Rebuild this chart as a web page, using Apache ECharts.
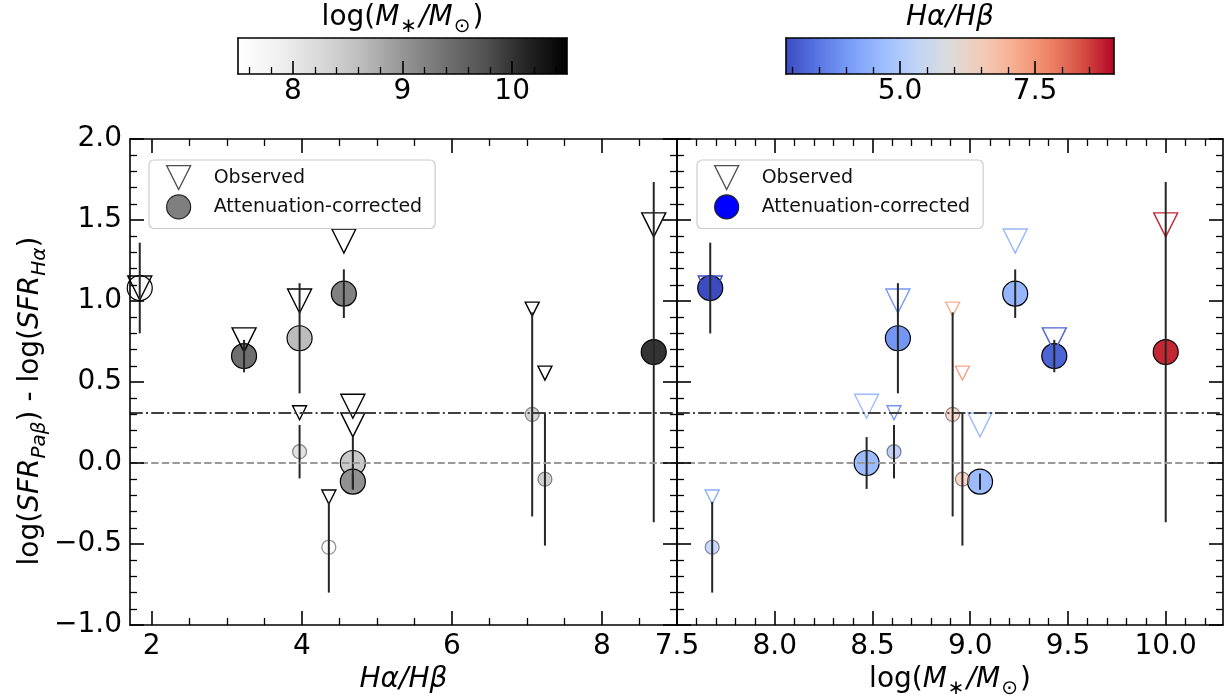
<!DOCTYPE html>
<html>
<head>
<meta charset="utf-8">
<script src="https://cdn.jsdelivr.net/npm/echarts@6/dist/echarts.min.js"></script>
<style>
  html, body { margin: 0; padding: 0; background: #fff; }
  #chart { width: 1231px; height: 696px; }
</style>
</head>
<body>
<div id="chart"></div>
<script>
// Per-galaxy measurements
const balmerDecrement  = [1.84, 3.23, 3.97, 4.56, 4.68, 4.68, 3.97, 4.36, 7.07, 7.24, 8.69];
const logStellarMass   = [7.67, 9.43, 8.63, 9.23, 8.47, 9.05, 8.61, 7.68, 8.91, 8.96, 10.00];
const sfrOffsetObs     = [1.08, 0.76, 1.00, 1.37, 0.35, 0.235, 0.31, -0.21, 0.95, 0.555, 1.47];
const sfrOffsetCorr    = [1.08, 0.66, 0.77, 1.045, 0.00, -0.115, 0.07, -0.52, 0.30, -0.10, 0.685];
const sfrOffsetErr     = [0.28, 0.10, 0.34, 0.15, 0.16, 0.05, 0.165, 0.28, 0.63, 0.41, 1.05];
const highSignal       = [true, true, true, true, true, true, false, false, false, false, true];

// Reference levels: zero offset and the mean observed offset
const referenceLevels  = [0.0, 0.31];

// Axis extents and tick labels
const decrementAxisRange = [1.71, 9.0];
const massAxisRange      = [7.5, 10.293];
const offsetAxisRange    = [-1.0, 2.0];
const decrementTicks     = [2, 4, 6, 8];
const massTicks          = [7.5, 8.0, 8.5, 9.0, 9.5, 10.0];

// Colour-bar limits and tick labels
const massColorRange      = [7.5, 10.5];
const decrementColorRange = [2.89, 8.96];
const massBarTicks        = [8, 9, 10];
const decrementBarTicks   = [5.0, 7.5];

const FONT = 'DejaVu Sans';
const FS = 28;      // tick labels and titles
const FS_SUB = 20;  // subscripts
const GREYS = ['#ffffff', '#f0f0f0', '#d9d9d9', '#bdbdbd', '#969696', '#737373', '#525252', '#252525', '#000000'];
const COOLWARM = ['#3b4cc0', '#5977e3', '#7b9ff9', '#9ebeff', '#c0d4f5', '#dddcdc', '#f2cbb7', '#f7ac8e', '#ee8468', '#d65244', '#b40426'];

function hexToRgb(h) { return [1, 3, 5].map(i => parseInt(h.substr(i, 2), 16)); }
function sampleMap(stops, t) {
  t = Math.max(0, Math.min(1, t));
  const n = stops.length - 1, f = t * n;
  const i = Math.min(n - 1, Math.floor(f)), u = f - i;
  const a = hexToRgb(stops[i]), b = hexToRgb(stops[i + 1]);
  return 'rgb(' + a.map((v, k) => Math.round(v + (b[k] - v) * u)).join(',') + ')';
}
function norm(v, r) { return (v - r[0]) / (r[1] - r[0]); }
function mapGradient(stops) {
  return { type: 'linear', x: 0, y: 0, x2: 1, y2: 0,
    colorStops: stops.map((c, i) => ({ offset: i / (stops.length - 1), color: c })) };
}
function stepValues(lo, hi, step, skip) {
  const out = [];
  const k0 = Math.ceil(lo / step - 1e-9), k1 = Math.floor(hi / step + 1e-9);
  for (let k = k0; k <= k1; k++) {
    const v = Math.round(k * step * 1000) / 1000;
    if (v <= lo + 1e-6 || v >= hi - 1e-6) continue;
    if (skip.some(m => Math.abs(m - v) < 1e-6)) continue;
    out.push(v);
  }
  return out;
}

const LH = 38;
const RICH = {
  n:  { fontFamily: FONT, fontSize: FS, color: '#000', lineHeight: LH },
  i:  { fontFamily: FONT, fontSize: FS, color: '#000', lineHeight: LH, fontStyle: 'italic' },
  s:  { fontFamily: FONT, fontSize: FS_SUB, color: '#000', lineHeight: FS_SUB, verticalAlign: 'bottom', padding: [0, 2, 0, 1] },
  si: { fontFamily: FONT, fontSize: FS_SUB, color: '#000', lineHeight: FS_SUB, verticalAlign: 'bottom', fontStyle: 'italic' }
};
const MASS_TITLE = '{n|log(}{i|M}{s|∗}{i|/M}{s|⊙}{n|)}';
const DEC_TITLE = '{i|Hα/Hβ}';
const OFFSET_TITLE = '{n|log(}{i|SFR}{si|Paβ}{n|) - log(}{i|SFR}{si|Hα}{n|)}';

const frameLine = { show: true, onZero: false, lineStyle: { color: '#000', width: 1.6 } };
const hiddenLine = { show: false, onZero: false };
function ticks(values, len) {
  return { show: true, inside: true, length: len, customValues: values,
    lineStyle: { color: '#000', width: len > 10 ? 1.6 : 1.3 } };
}
const labelBase = { fontFamily: FONT, fontSize: FS, color: '#000' };
const nameStyle = { fontFamily: FONT, fontSize: FS, color: '#000', rich: RICH };

const xAxes = [], yAxes = [];
function addX(cfg) {
  xAxes.push(Object.assign({ type: 'value', splitLine: { show: false }, z: 10, scale: true }, cfg));
  return xAxes.length - 1;
}
function addY(cfg) {
  yAxes.push(Object.assign({ type: 'value', splitLine: { show: false }, z: 10, scale: true }, cfg));
  return yAxes.length - 1;
}

function panelXAxes(grid, range, majors, step, fmt, title) {
  const minors = stepValues(range[0], range[1], step, majors);
  const common = { gridIndex: grid, min: range[0], max: range[1] };
  const main = addX(Object.assign({}, common, {
    position: 'bottom', axisLine: frameLine, axisTick: ticks(majors, 14),
    axisLabel: Object.assign({ show: true, customValues: majors, formatter: fmt, margin: 8 }, labelBase),
    name: title, nameLocation: 'middle', nameGap: 28, nameTextStyle: nameStyle
  }));
  addX(Object.assign({}, common, { position: 'bottom', axisLine: hiddenLine, axisTick: ticks(minors, 7), axisLabel: { show: false } }));
  addX(Object.assign({}, common, { position: 'top', axisLine: frameLine, axisTick: ticks(majors, 14), axisLabel: { show: false } }));
  addX(Object.assign({}, common, { position: 'top', axisLine: hiddenLine, axisTick: ticks(minors, 7), axisLabel: { show: false } }));
  return main;
}

function offsetFmt(v) { return (v < 0 ? '\u2212' : '') + Math.abs(v).toFixed(1); }

function panelYAxes(grid, withLabels) {
  const common = {
    gridIndex: grid, min: offsetAxisRange[0], max: offsetAxisRange[1], interval: 0.5,
    axisLine: frameLine,
    axisTick: { show: true, inside: true, length: 14, lineStyle: { color: '#000', width: 1.6 } },
    minorTick: { show: true, splitNumber: 5, length: 7, lineStyle: { color: '#000', width: 1.3 } }
  };
  const main = addY(Object.assign({}, common, {
    position: 'left',
    axisLabel: withLabels ? Object.assign({ show: true, formatter: offsetFmt, margin: 8 }, labelBase) : { show: false },
    name: withLabels ? OFFSET_TITLE : '', nameLocation: 'middle', nameGap: 80, nameRotate: 90,
    nameTextStyle: Object.assign({ padding: [0, 38, 0, 0] }, nameStyle)
  }));
  addY(Object.assign({}, common, { position: 'right', axisLabel: { show: false } }));
  return main;
}

function colorbarAxes(grid, range, majors, step, fmt, title) {
  const minors = stepValues(range[0], range[1], step, majors);
  const common = { gridIndex: grid, min: range[0], max: range[1] };
  const x = addX(Object.assign({}, common, {
    position: 'bottom', axisLine: frameLine, axisTick: ticks(majors, 13),
    axisLabel: Object.assign({ show: true, customValues: majors, formatter: fmt, margin: 4 }, labelBase)
  }));
  addX(Object.assign({}, common, { position: 'bottom', axisLine: hiddenLine, axisTick: ticks(minors, 7), axisLabel: { show: false } }));
  addX(Object.assign({}, common, {
    position: 'top', axisLine: frameLine, axisTick: { show: false }, axisLabel: { show: false },
    name: title, nameLocation: 'middle', nameGap: 1, nameTextStyle: nameStyle
  }));
  const y = addY({ gridIndex: grid, min: 0, max: 1, position: 'left', axisLine: frameLine, axisTick: { show: false }, axisLabel: { show: false } });
  addY({ gridIndex: grid, min: 0, max: 1, position: 'right', axisLine: frameLine, axisTick: { show: false }, axisLabel: { show: false } });
  return [x, y];
}

const gridBase = { outerBoundsMode: 'none', containLabel: false };
const grids = [
  Object.assign({ left: 130, top: 139, width: 547, height: 486 }, gridBase),
  Object.assign({ left: 677, top: 139, width: 546, height: 486 }, gridBase),
  Object.assign({ left: 238, top: 38, width: 329, height: 36 }, gridBase),
  Object.assign({ left: 786, top: 38, width: 328, height: 36 }, gridBase)
];

const xLeft = panelXAxes(0, decrementAxisRange, decrementTicks, 0.5, v => String(v), DEC_TITLE);
const yLeft = panelYAxes(0, true);
const xRight = panelXAxes(1, massAxisRange, massTicks, 0.1, v => v.toFixed(1), MASS_TITLE);
const yRight = panelYAxes(1, false);
const [xMassBar, yMassBar] = colorbarAxes(2, massColorRange, massBarTicks, 0.2, v => String(v), MASS_TITLE);
const [xDecBar, yDecBar] = colorbarAxes(3, decrementColorRange, decrementBarTicks, 0.5, v => v.toFixed(1), DEC_TITLE);

const greyOf = m => sampleMap(GREYS, norm(m, massColorRange));
const coolwarmOf = d => sampleMap(COOLWARM, norm(d, decrementColorRange));
const sizeOf = i => highSignal[i] ? 25 : 14;
const triSizeOf = i => highSignal[i] ? 24 : 14;

function panelSeries(xIdx, yIdx, xs, fillOf, edgeOf) {
  const circles = xs.map((x, i) => ({
    value: [x, sfrOffsetCorr[i]],
    symbolSize: sizeOf(i),
    itemStyle: { color: fillOf(i), borderColor: '#000', borderWidth: 1.2, opacity: highSignal[i] ? 1 : 0.45 }
  }));
  const triangles = xs.map((x, i) => ({
    value: [x, sfrOffsetObs[i]],
    symbolSize: triSizeOf(i),
    itemStyle: { color: 'rgba(255,255,255,0)', borderColor: edgeOf(i), borderWidth: 1.4, opacity: 1 }
  }));
  const bars = xs.map((x, i) => [x, sfrOffsetCorr[i] - sfrOffsetErr[i], sfrOffsetCorr[i] + sfrOffsetErr[i]]);
  return [
    {
      name: 'Attenuation-corrected', type: 'scatter', xAxisIndex: xIdx, yAxisIndex: yIdx,
      symbol: 'circle', data: circles, z: 2, emphasis: { disabled: true },
      markLine: {
        silent: true, symbol: ['none', 'none'], label: { show: false }, animation: false,
        data: [
          { yAxis: referenceLevels[0], lineStyle: { type: [7.4, 3.2], color: '#9a9a9a', width: 2 } },
          { yAxis: referenceLevels[1], lineStyle: { type: [12.8, 3.2, 2, 3.2], color: '#404040', width: 2 } }
        ]
      }
    },
    {
      name: 'Observed', type: 'scatter', xAxisIndex: xIdx, yAxisIndex: yIdx,
      symbol: 'triangle', symbolRotate: 180, data: triangles, z: 3, emphasis: { disabled: true }
    },
    {
      type: 'custom', xAxisIndex: xIdx, yAxisIndex: yIdx, data: bars, z: 4, silent: true,
      encode: { x: 0, y: [1, 2] },
      renderItem: (params, api) => {
        const p1 = api.coord([api.value(0), api.value(1)]);
        const p2 = api.coord([api.value(0), api.value(2)]);
        return { type: 'line', shape: { x1: p1[0], y1: p1[1], x2: p2[0], y2: p2[1] },
          style: { stroke: '#262626', lineWidth: 2 } };
      }
    }
  ];
}

function colorbarSeries(xIdx, yIdx, range, stops) {
  return {
    type: 'custom', xAxisIndex: xIdx, yAxisIndex: yIdx, data: [[range[0], range[1]]], z: 1, silent: true,
    encode: { x: [0, 1] },
    renderItem: (params, api) => {
      const a = api.coord([api.value(0), 1]);
      const b = api.coord([api.value(1), 0]);
      return { type: 'rect', shape: { x: a[0], y: a[1], width: b[0] - a[0], height: b[1] - a[1] },
        style: { fill: mapGradient(stops) } };
    }
  };
}

const TRI_ICON = 'path://M0,0 L24,0 L12,24 Z';
function legendFor(left, circleColor) {
  return {
    left: left, top: 160, orient: 'vertical',
    itemWidth: 24, itemHeight: 24, itemGap: 4,
    padding: [5, 13, 9, 17],
    backgroundColor: '#fff', borderColor: '#cccccc', borderWidth: 1.2, borderRadius: 5,
    selectedMode: false,
    textStyle: { fontFamily: FONT, fontSize: 19, color: '#111', padding: [0, 0, 0, 18] },
    data: [
      { name: 'Observed', icon: TRI_ICON, itemStyle: { color: 'rgba(255,255,255,0)', borderColor: '#222', borderWidth: 1.3 } },
      { name: 'Attenuation-corrected', icon: 'circle', itemStyle: { color: circleColor, borderColor: '#222', borderWidth: 1.2, opacity: 1 } }
    ]
  };
}

const option = {
  animation: false,
  backgroundColor: '#fff',
  grid: grids,
  xAxis: xAxes,
  yAxis: yAxes,
  legend: [legendFor(149, '#7f7f7f'), legendFor(697, '#0000ff')],
  series: [].concat(
    panelSeries(xLeft, yLeft, balmerDecrement, i => greyOf(logStellarMass[i]), i => '#000'),
    panelSeries(xRight, yRight, logStellarMass, i => coolwarmOf(balmerDecrement[i]), i => coolwarmOf(balmerDecrement[i])),
    [colorbarSeries(xMassBar, yMassBar, massColorRange, GREYS),
     colorbarSeries(xDecBar, yDecBar, decrementColorRange, COOLWARM)]
  )
};

const chart = echarts.init(document.getElementById('chart'), null, { renderer: 'canvas' });
chart.setOption(option);
</script>
</body>
</html>
